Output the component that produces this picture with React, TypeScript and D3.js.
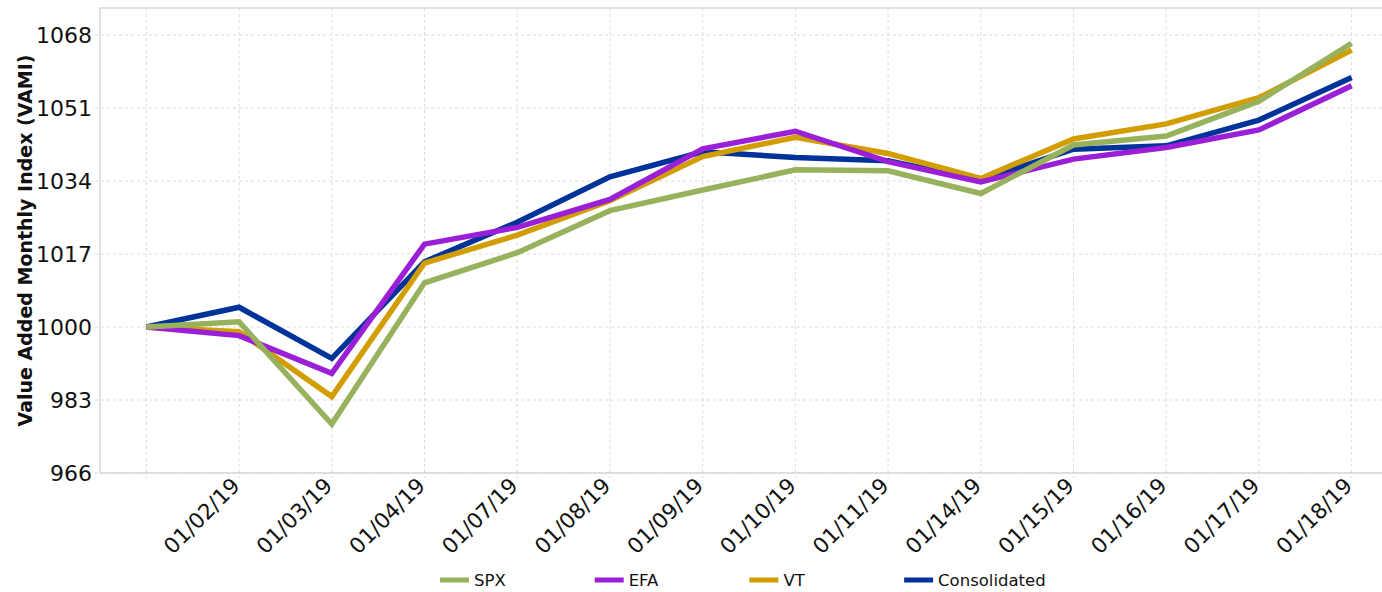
import React, { useRef, useEffect } from "react";
import * as d3 from "d3";

// categories (first point has no label on the axis)
const dates = ["", "01/02/19", "01/03/19", "01/04/19", "01/07/19", "01/08/19", "01/09/19", "01/10/19", "01/11/19", "01/14/19", "01/15/19", "01/16/19", "01/17/19", "01/18/19"];

// series values (VAMI)
const spx = [1000, 1001.2, 977.4, 1010.3, 1017.3, 1027.1, 1031.9, 1036.6, 1036.4, 1031.1, 1042.4, 1044.5, 1052.6, 1066.1];
const efa = [1000, 998.0, 989.2, 1019.3, 1023.2, 1029.7, 1041.5, 1045.6, 1038.5, 1033.8, 1039.1, 1041.8, 1045.9, 1056.2];
const vt = [1000, 998.9, 983.8, 1014.9, 1021.4, 1029.4, 1039.7, 1044.2, 1040.4, 1034.6, 1043.8, 1047.3, 1053.4, 1064.5];
const consolidated = [1000, 1004.6, 992.7, 1015.2, 1024.4, 1035.0, 1040.8, 1039.5, 1038.7, 1034.2, 1041.4, 1042.2, 1048.2, 1058.1];

const yTicks = [966, 983, 1000, 1017, 1034, 1051, 1068];

const seriesNames = ["SPX", "EFA", "VT", "Consolidated"];
const seriesValues = [spx, efa, vt, consolidated];
const seriesColors = ["#97b15c", "#9b1fd6", "#d29d00", "#00339a"];

const font = "'DejaVu Sans', Verdana, sans-serif";

export default function App() {
  const ref = useRef<SVGSVGElement>(null);

  useEffect(() => {
    const width = 1382;
    const height = 592;
    const margin = { top: 8, left: 100, bottom: 119 };
    const plotRight = 1398;

    const svg = d3.select(ref.current);
    svg.selectAll("*").remove();
    svg.attr("width", width).attr("height", height).style("font-family", font);

    const x = d3.scalePoint<number>()
      .domain(d3.range(dates.length))
      .range([margin.left, plotRight])
      .padding(0.5);

    const y = d3.scaleLinear()
      .domain([966, 1074.3])
      .range([height - margin.bottom, margin.top]);

    const y0 = y(966);

    // grid
    const grid = svg.append("g");
    grid.selectAll("line.v")
      .data(d3.range(dates.length))
      .join("line")
      .attr("x1", d => x(d)!)
      .attr("x2", d => x(d)!)
      .attr("y1", margin.top)
      .attr("y2", y0 + 5)
      .attr("stroke", "#dcdcdc")
      .attr("stroke-dasharray", "3,3");
    grid.selectAll("line.h")
      .data(yTicks)
      .join("line")
      .attr("x1", margin.left - 5)
      .attr("x2", width)
      .attr("y1", d => y(d))
      .attr("y2", d => y(d))
      .attr("stroke", "#dcdcdc")
      .attr("stroke-dasharray", "3,3");

    // plot border
    svg.append("path")
      .attr("d", `M${width},${margin.top}H${margin.left}V${y0}H${width}`)
      .attr("fill", "none")
      .attr("stroke", "#d6d6d6")
      .attr("stroke-width", 1.5);

    // y labels
    svg.append("g")
      .selectAll("text")
      .data(yTicks)
      .join("text")
      .attr("x", 92)
      .attr("y", d => y(d) + 8)
      .attr("text-anchor", "end")
      .attr("font-size", 22)
      .attr("fill", "#111")
      .text(d => d);

    // x labels
    svg.append("g")
      .selectAll("text")
      .data(dates)
      .join("text")
      .attr("transform", (d, i) => `translate(${x(i)! + 2},${y0 + 14}) rotate(-45)`)
      .attr("text-anchor", "end")
      .attr("font-size", 21.5)
      .attr("fill", "#111")
      .text(d => d);

    // axis title
    svg.append("text")
      .attr("transform", `translate(32,${(margin.top + y0) / 2}) rotate(-90)`)
      .attr("text-anchor", "middle")
      .attr("font-size", 19)
      .attr("font-weight", "bold")
      .attr("fill", "#111")
      .text("Value Added Monthly Index (VAMI)");

    // lines (Consolidated at the bottom, SPX on top)
    const line = d3.line<number>()
      .x((d, i) => x(i)!)
      .y(d => y(d));

    const order = [3, 2, 1, 0];
    svg.append("g")
      .selectAll("path")
      .data(order)
      .join("path")
      .attr("d", k => line(seriesValues[k]))
      .attr("fill", "none")
      .attr("stroke", k => seriesColors[k])
      .attr("stroke-width", 5.5)
      .attr("stroke-linejoin", "miter");

    // legend
    const legend = svg.append("g").attr("transform", `translate(440,580)`);
    seriesNames.forEach((name, i) => {
      const gx = i * 154.7;
      legend.append("rect")
        .attr("x", gx)
        .attr("y", -2.5)
        .attr("width", 29)
        .attr("height", 5)
        .attr("fill", seriesColors[i]);
      legend.append("text")
        .attr("x", gx + 34)
        .attr("y", 6)
        .attr("font-size", 16.5)
        .attr("fill", "#111")
        .text(name);
    });
  }, []);

  return (
    <svg ref={ref} style={{ position: "absolute", left: 0, top: 0, display: "block" }}></svg>
  );
}
